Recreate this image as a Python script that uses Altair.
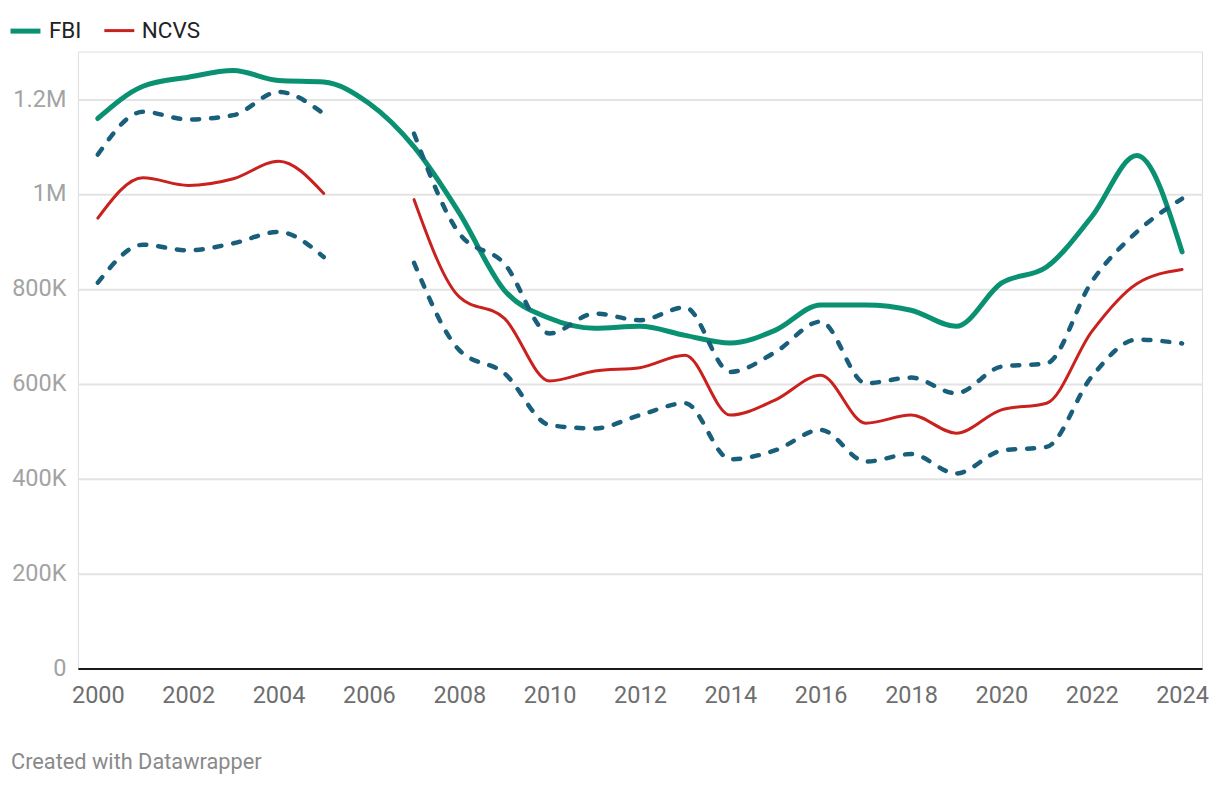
import altair as alt
import pandas as pd

years = list(range(2000, 2025))
fbi = [1159, 1227, 1246, 1260, 1239, 1236, 1191, 1099, 960, 797, 738, 717, 721, 702,
       686, 713, 766, 766, 755, 721, 812, 846, 952, 1081, 878]
ncvs = [949, 1034, 1018, 1032, 1069, 1001, None, 988, 783, 738, 606, 627, 634, 660,
        534, 566, 618, 517, 534, 496, 545, 559, 710, 811, 841]
upper = [1083, 1173, 1157, 1166, 1215, 1169, None, 1127, 917, 853, 706, 748, 734, 761,
         625, 667, 731, 601, 613, 580, 636, 643, 815, 920, 990]
lower = [813, 893, 881, 896, 920, 867, None, 855, 671, 622, 513, 506, 534, 559,
         441, 460, 503, 436, 452, 411, 459, 467, 615, 693, 685]

y_ticks = [0, 200000, 400000, 600000, 800000, 1000000, 1200000]
x_ticks = list(range(2000, 2025, 2))

rows_main = []
rows_band = []
for series, vals, target in [("FBI", fbi, rows_main), ("NCVS", ncvs, rows_main),
                             ("Upper", upper, rows_band), ("Lower", lower, rows_band)]:
    seg = 0
    for yr, v in zip(years, vals):
        if v is None:
            seg += 1
            continue
        target.append({"year": yr, "value": v * 1000, "series": series,
                       "key": f"{series}-{seg}"})

main_df = pd.DataFrame(rows_main)
band_df = pd.DataFrame(rows_band)

W, H = 1126, 618

x_enc = alt.X("year:Q",
              scale=alt.Scale(domain=[1999.558, 2024.442], nice=False, zero=False),
              axis=alt.Axis(values=x_ticks, format="d", title=None, grid=False,
                            ticks=False, domain=True, domainColor="#1a1a1a",
                            domainWidth=2, labelFontSize=23.5, labelColor="#6e6e6e",
                            labelFont="Roboto", labelPadding=15))
y_enc = alt.Y("value:Q",
              scale=alt.Scale(domain=[0, 1300000], nice=False),
              axis=alt.Axis(values=y_ticks, title=None, grid=True, gridColor="#e3e3e3",
                            gridWidth=2, ticks=False, domain=False,
                            labelFontSize=23.5, labelColor="#a3a3a3", labelFont="Roboto",
                            labelPadding=12, labelBaseline="middle",
                            labelExpr="datum.value == 0 ? '0' : datum.value >= 1000000 ? format(datum.value/1000000, '~g') + 'M' : format(datum.value/1000, 'd') + 'K'"))

legend_kw = dict(title=None, orient="none", legendX=-70, legendY=-38,
                 direction="horizontal", symbolType="stroke", symbolSize=900,
                 labelFontSize=22.5, labelColor="#222222", labelFont="Roboto",
                 labelOffset=6, columnPadding=16)

main = alt.Chart(main_df).mark_line(interpolate="monotone", strokeCap="round",
                                    strokeJoin="round").encode(
    x=x_enc,
    y=y_enc,
    color=alt.Color("series:N",
                    scale=alt.Scale(domain=["FBI", "NCVS"], range=["#0a9171", "#c9211e"]),
                    legend=alt.Legend(**legend_kw)),
    strokeWidth=alt.StrokeWidth("series:N",
                                scale=alt.Scale(domain=["FBI", "NCVS"], range=[5, 3]),
                                legend=alt.Legend(**legend_kw)),
    detail="key:N",
)

band = alt.Chart(band_df).mark_line(interpolate="monotone", strokeCap="round",
                                    strokeDash=[7, 12], strokeWidth=4.5,
                                    color="#195f7b").encode(
    x="year:Q",
    y="value:Q",
    detail="key:N",
)

footer = alt.Chart(pd.DataFrame({"t": ["Created with Datawrapper"]})).mark_text(
    align="left", baseline="middle", fontSize=21.8, color="#8a8a8a", font="Roboto"
).encode(x=alt.value(-67), y=alt.value(712), text="t:N")

chart = alt.layer(main, band, footer).properties(
    width=W, height=H,
    autosize=alt.AutoSizeParams(type="none"),
    padding={"left": 70, "top": 43, "right": 10, "bottom": 110},
).configure_view(stroke=None).configure(font="Roboto")

chart.save("out.html", embed_options={"renderer": "svg", "actions": False})
